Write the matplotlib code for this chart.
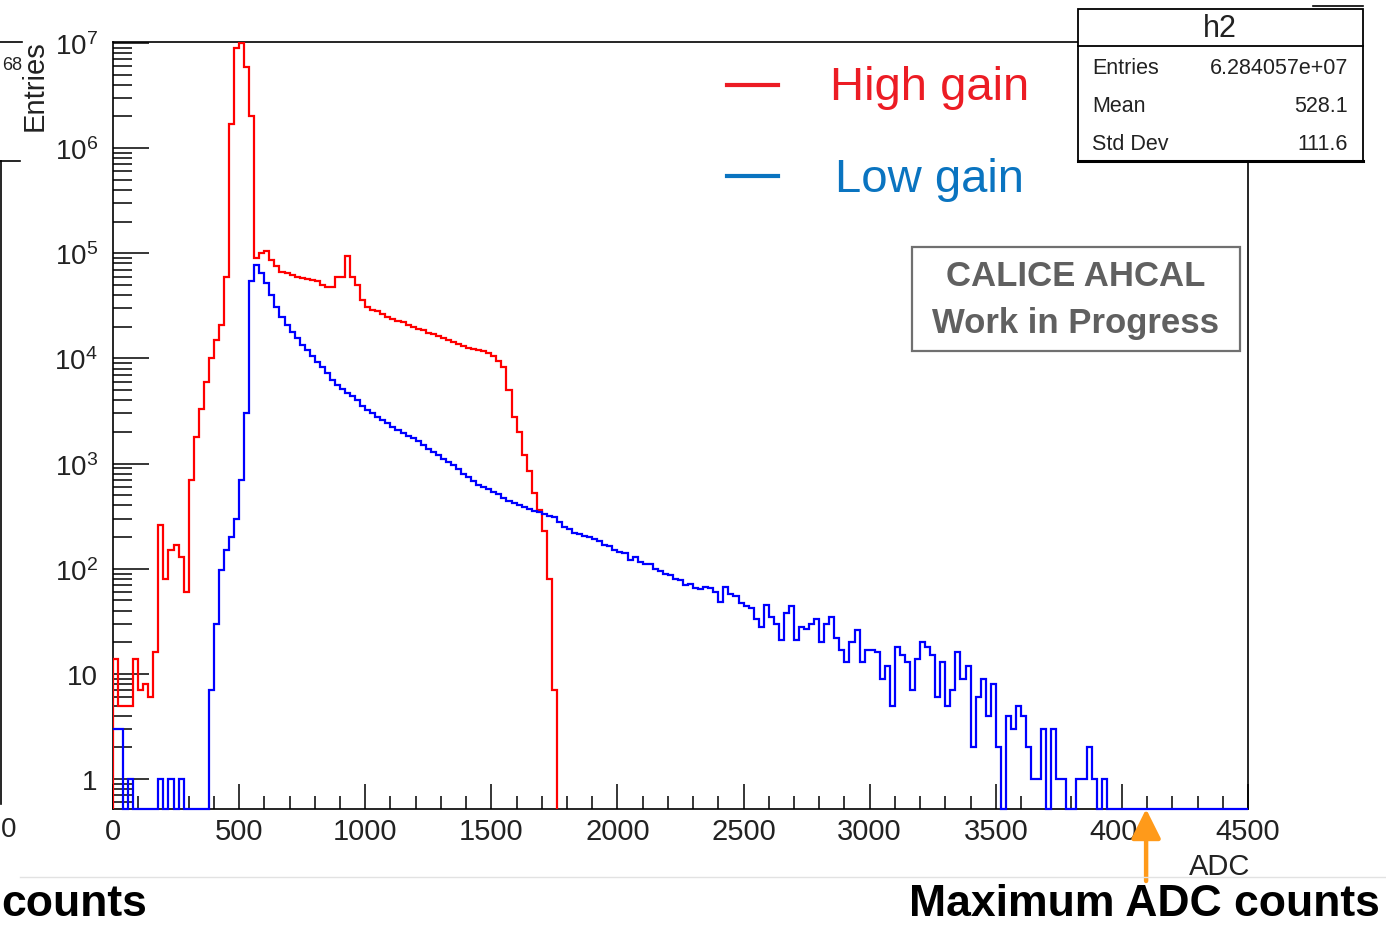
import numpy as np
import matplotlib.pyplot as plt
from matplotlib.patches import Rectangle
from matplotlib.lines import Line2D
from matplotlib.ticker import FixedLocator, FixedFormatter, MultipleLocator, LogLocator, NullFormatter

plt.rcParams['font.family'] = ['Liberation Sans', 'DejaVu Sans']
plt.rcParams['mathtext.fontset'] = 'custom'
plt.rcParams['mathtext.rm'] = 'Liberation Sans'

# ADC spectra, 20 ADC counts per bin starting at 0
bin_width = 20
adc_edges = np.arange(0, 4500 + bin_width, bin_width)

high_gain = [
    14, 5, 5, 5, 14, 7, 8, 6, 16, 260,
    80, 150, 170, 130, 60, 700, 1800, 3300, 6000, 10000,
    15000, 21000, 60000, 1.7e6, 9.0e6, 1.0e7, 5.9e6, 2.0e6, 9.0e4, 1.0e5,
    1.05e5, 8.7e4, 7.5e4, 6.7e4, 6.5e4, 6.2e4, 6.0e4, 5.8e4, 5.7e4, 5.6e4,
    5.4e4, 5.0e4, 4.8e4, 4.8e4, 5.9e4, 6.0e4, 9.5e4, 6.0e4, 5.0e4, 3.6e4,
    3.1e4, 2.9e4, 2.8e4, 2.65e4, 2.5e4, 2.35e4, 2.25e4, 2.2e4, 2.1e4, 2.0e4,
    1.9e4, 1.85e4, 1.75e4, 1.7e4, 1.62e4, 1.55e4, 1.5e4, 1.42e4, 1.38e4, 1.32e4,
    1.27e4, 1.22e4, 1.2e4, 1.18e4, 1.13e4, 1.05e4, 9500, 8300, 5000, 2800,
    2000, 1200, 850, 520, 360, 230, 80, 7,
]

low_gain = [
    3, 3, 0, 1, 0, 0, 0, 0, 0, 1,
    0, 1, 0, 1, 0, 0, 0, 0, 0, 7,
    30, 98, 150, 200, 300, 700, 3000, 55000, 78000, 65000,
    52000, 40000, 31000, 25000, 21000, 18000, 15500, 13500, 12000, 10500,
    9200, 8200, 7300, 6300, 5600, 5100, 4700, 4400, 4000, 3500,
    3250, 3000, 2800, 2600, 2450, 2250, 2100, 1950, 1850, 1750,
    1650, 1500, 1380, 1280, 1200, 1100, 1030, 960, 880, 800,
    740, 690, 630, 600, 570, 540, 510, 470, 445, 425,
    400, 385, 370, 355, 345, 330, 315, 310, 280, 250,
    240, 220, 215, 205, 200, 190, 185, 170, 165, 150,
    145, 140, 120, 130, 115, 110, 112, 100, 95, 90,
    88, 80, 78, 70, 72, 66, 64, 67, 65, 60,
    48, 67, 58, 55, 47, 44, 42, 33, 28, 45,
    35, 30, 21, 38, 44, 21, 28, 27, 30, 33,
    20, 30, 35, 22, 17, 13, 20, 26, 13, 17,
    17, 16, 9, 12, 5, 18, 15, 13, 7, 14,
    20, 18, 15, 6, 13, 5, 7, 16, 9, 12,
    2, 6, 9, 4, 8, 2, 0, 4, 3, 5,
    4, 2, 1, 1, 3, 0, 3, 1, 1, 0,
    0, 1, 1, 2, 1, 0, 1,
]

max_adc = 4096
y_ticks = [1, 10, 1e2, 1e3, 1e4, 1e5, 1e6, 1e7]
y_tick_labels = ['1', '10'] + [r'$\mathregular{10^{%d}}$' % p for p in range(2, 8)]
stats_rows = [('Entries', '6.284057e+07'), ('Mean', '528.1'), ('Std Dev', '111.6')]

y_min, y_max = 0.52, 1.02e7

W, H = 1386, 928
fig = plt.figure(figsize=(W / 100, H / 100), dpi=100)


def fx(px):
    return px / W


def fy(py):
    return 1 - py / H


ax = fig.add_axes([fx(113), fy(810), 1135 / W, 767 / H])

hg = np.clip(np.asarray(high_gain, dtype=float), y_min, None)
lg = np.zeros(len(adc_edges) - 1)
lg[:len(low_gain)] = low_gain
lg = np.clip(lg, y_min, None)

ax.stairs(hg, adc_edges[:len(hg) + 1], baseline=y_min, color='#ff0000', lw=1.6, zorder=3)
ax.stairs(lg, adc_edges, baseline=None, color='#0000ff', lw=1.6, zorder=3, clip_on=False)

ax.set_yscale('log')
ax.set_xlim(0, 4500)
ax.set_ylim(y_min, y_max)

ax.xaxis.set_major_locator(MultipleLocator(500))
ax.xaxis.set_minor_locator(MultipleLocator(100))
ax.yaxis.set_major_locator(FixedLocator(y_ticks))
ax.yaxis.set_major_formatter(FixedFormatter(y_tick_labels))
ax.yaxis.set_minor_locator(LogLocator(base=10, subs=np.arange(2, 10), numticks=20))
ax.yaxis.set_minor_formatter(NullFormatter())

ax.tick_params(axis='x', which='major', direction='in', length=18, width=1.1,
               labelsize=21, labelcolor='#222222', pad=6, top=False)
ax.tick_params(axis='x', which='minor', direction='in', length=9.5, width=1.1, top=False)
ax.tick_params(axis='y', which='major', direction='in', length=26, width=1.1,
               labelsize=20, labelcolor='#222222', pad=11, right=False)
ax.tick_params(axis='y', which='minor', direction='in', length=14, width=1.1, right=False)
for s in ax.spines.values():
    s.set_linewidth(1.2)

fig.text(fx(1250), fy(867), 'ADC', ha='right', va='center', fontsize=21, color='#222222')
fig.text(fx(35), fy(40), 'Entries', rotation=90, ha='center', va='top', fontsize=21, color='#222222')

# legend
fig.add_artist(Line2D([fx(727), fx(778)], [fy(86), fy(86)], color='#ec1c24', lw=3))
fig.add_artist(Line2D([fx(727), fx(778)], [fy(177), fy(177)], color='#0a74c0', lw=3))
fig.text(fx(830), fy(88), 'High gain', ha='left', va='center', fontsize=34, color='#ec1c24')
fig.text(fx(835), fy(180), 'Low gain', ha='left', va='center', fontsize=34, color='#0a74c0')

# CALICE label
fig.add_artist(Rectangle((fx(912), fy(352)), 328 / W, 104 / H, transform=fig.transFigure,
                         facecolor='white', edgecolor='#707070', lw=1.6))
fig.text(fx(1076), fy(276), 'CALICE AHCAL', ha='center', va='center',
         fontsize=25, fontweight='bold', color='#606060')
fig.text(fx(1076), fy(324), 'Work in Progress', ha='center', va='center',
         fontsize=25, fontweight='bold', color='#606060')

# statistics box
fig.add_artist(Line2D([fx(1313), fx(1363)], [fy(7), fy(7)], color='black', lw=1.2))
fig.add_artist(Rectangle((fx(1078), fy(162)), 285 / W, 152 / H, transform=fig.transFigure,
                         facecolor='white', edgecolor='black', lw=1.3))
fig.add_artist(Line2D([fx(1078), fx(1363)], [fy(47), fy(47)], color='black', lw=1.3))
fig.add_artist(Line2D([fx(1078), fx(1363)], [fy(162), fy(162)], color='black', lw=2.2))
fig.text(fx(1220), fy(29), 'h2', ha='center', va='center', fontsize=22, color='#222222')
for i, (name, val) in enumerate(stats_rows):
    y = fy(68 + 38 * i)
    fig.text(fx(1092), y, name, ha='left', va='center', fontsize=15.5, color='#222222')
    fig.text(fx(1348), y, val, ha='right', va='center', fontsize=15.5, color='#222222')

# edge of the neighbouring panel
fig.add_artist(Line2D([0, fx(22)], [fy(43), fy(43)], color='black', lw=1.2))
fig.add_artist(Line2D([0, fx(20)], [fy(162), fy(162)], color='black', lw=1.2))
fig.add_artist(Line2D([fx(1), fx(1)], [fy(162), fy(805)], color='black', lw=1.2))
fig.text(fx(22), fy(66), '68', ha='right', va='center', fontsize=13, color='#222222')
fig.text(fx(1), fy(830), '0', ha='left', va='center', fontsize=20, color='#222222')

fig.add_artist(Line2D([fx(20), 1], [fy(878), fy(878)], color='#e2e2e2', lw=1))

# maximum ADC marker
ax.annotate('', xy=(max_adc, 0.0), xycoords=('data', 'axes fraction'),
            xytext=(max_adc, fy(882)), textcoords=('data', 'figure fraction'),
            arrowprops=dict(arrowstyle='-|>,head_length=0.6,head_width=0.3',
                            mutation_scale=30, color='#ff9a1a', lw=3.2,
                            shrinkA=0, shrinkB=0),
            annotation_clip=False)
fig.text(fx(1380), fy(905), 'Maximum ADC counts', ha='right', va='center',
         fontsize=32, fontweight='bold', color='black')
fig.text(fx(1), fy(905), 'counts', ha='left', va='center',
         fontsize=32, fontweight='bold', color='black')

fig.savefig('out.png', dpi=100)
